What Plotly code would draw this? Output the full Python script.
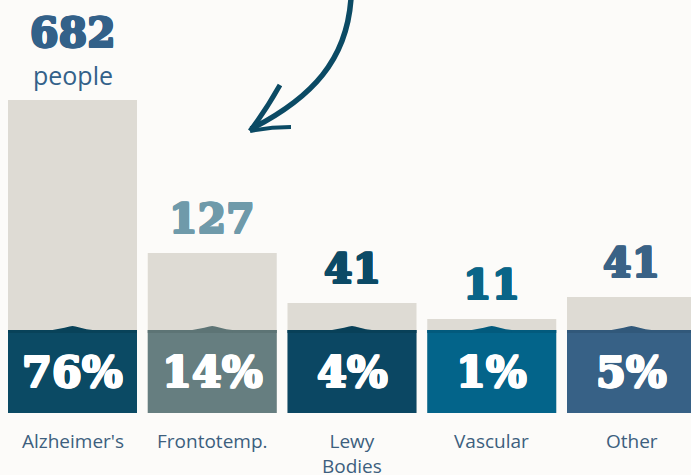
import plotly.graph_objects as go

# ---- data ----
categories = ["Alzheimer's", "Frontotemp.", "Lewy<br>Bodies", "Vascular", "Other"]
counts = [682, 127, 41, 11, 41]
percents = [76, 14, 4, 1, 5]
# height of the grey background column (from band bottom), estimated units
grey_heights = [313, 160, 110, 94, 116]
band_height = 83

band_colors = ["#0b4a64", "#667e80", "#0b4763", "#03648a", "#376186"]
stripe_colors = ["#084259", "#5d7475", "#084058", "#025a7d", "#31587a"]
count_colors = ["#336189", "#6f9aaa", "#0c4a66", "#0a6588", "#3a6286"]

BG = "#fcfbf9"
GREY = "#dedbd4"
PX_PER_X = 139.75
W_BAR = 129 / PX_PER_X

fig = go.Figure()
xs = list(range(len(categories)))

fig.add_trace(go.Bar(x=xs, y=grey_heights, base=0, width=W_BAR,
                     marker=dict(color=GREY, line=dict(width=0)), hoverinfo="skip"))
fig.add_trace(go.Bar(x=xs, y=[band_height] * 5, base=0, width=W_BAR,
                     marker=dict(color=band_colors, line=dict(width=0)), hoverinfo="skip"))
fig.add_trace(go.Bar(x=xs, y=[3] * 5, base=band_height - 3, width=W_BAR,
                     marker=dict(color=stripe_colors, line=dict(width=0)), hoverinfo="skip"))

# small hill at the top centre of each band
hill_dx = [-20, -14, -8, -3, 0, 3, 8, 14, 20]
hill_dy = [0, 0.8, 2.3, 3.6, 4, 3.6, 2.3, 0.8, 0]
for i in xs:
    hx = [i + d / PX_PER_X for d in hill_dx] + [i + 20 / PX_PER_X, i - 20 / PX_PER_X]
    hy = [band_height + d for d in hill_dy] + [band_height - 3, band_height - 3]
    fig.add_trace(go.Scatter(x=hx, y=hy, fill="toself", mode="lines",
                             line=dict(width=0, color=stripe_colors[i]),
                             fillcolor=stripe_colors[i], hoverinfo="skip"))


def thick(c, w=0.9):
    return (f"{w}px 0 0 {c}, -{w}px 0 0 {c}, 0 {w}px 0 {c}, 0 -{w}px 0 {c}, "
            f"{w}px {w}px 0 {c}, -{w}px -{w}px 0 {c}, {w}px -{w}px 0 {c}, -{w}px {w}px 0 {c}")


NUMFONT = "DejaVu Serif"
for i in xs:
    # percent inside band
    fig.add_annotation(x=i, y=band_height / 2, text=f"<b>{percents[i]}%</b>",
                       showarrow=False, yanchor="middle",
                       font=dict(family=NUMFONT, size=43, color="white",
                                 shadow=thick("white")))
    # count above grey column
    off = 67 if i == 0 else 34
    fig.add_annotation(x=i, y=grey_heights[i] + off, text=f"<b>{counts[i]}</b>",
                       showarrow=False, yanchor="middle",
                       font=dict(family=NUMFONT, size=41, color=count_colors[i],
                                 shadow=thick(count_colors[i])))
    # category label
    fig.add_annotation(x=i, y=-14, text=categories[i], showarrow=False,
                       yanchor="top", borderpad=0,
                       font=dict(family="Open Sans", size=19, color="#3d5f7e"))

fig.add_annotation(x=0, y=grey_heights[0] + 25, text="people", showarrow=False,
                   yanchor="middle",
                   font=dict(family="Open Sans", size=25, color="#336189"))

# hand-drawn arrow (paper coordinates from pixels)
def P(x, y):
    return f"{x/691:.4f},{1 - y/475:.4f}"

arrow_col = "#0b4a64"
fig.add_shape(type="path", xref="paper", yref="paper",
              path=f"M {P(351,-2)} C {P(347,60)} {P(312,98)} {P(251,129)}",
              line=dict(color=arrow_col, width=5.5))
fig.add_shape(type="path", xref="paper", yref="paper",
              path=f"M {P(280,85)} Q {P(266,110)} {P(250,131)}",
              line=dict(color=arrow_col, width=5))
fig.add_shape(type="path", xref="paper", yref="paper",
              path=f"M {P(250,131)} Q {P(270,127)} {P(291,127)}",
              line=dict(color=arrow_col, width=4))

fig.update_layout(
    width=691, height=475,
    margin=dict(l=0, r=0, t=0, b=0),
    paper_bgcolor=BG, plot_bgcolor=BG,
    barmode="overlay", showlegend=False,
    xaxis=dict(range=[-72.5 / PX_PER_X, (691 - 72.5) / PX_PER_X], visible=False, fixedrange=True),
    yaxis=dict(range=[-62, 413], visible=False, fixedrange=True),
)

fig.write_html(
    "out.html",
    config={"displayModeBar": False},
    post_script="document.body.style.margin='0';document.body.style.background='#fcfbf9';",
)
